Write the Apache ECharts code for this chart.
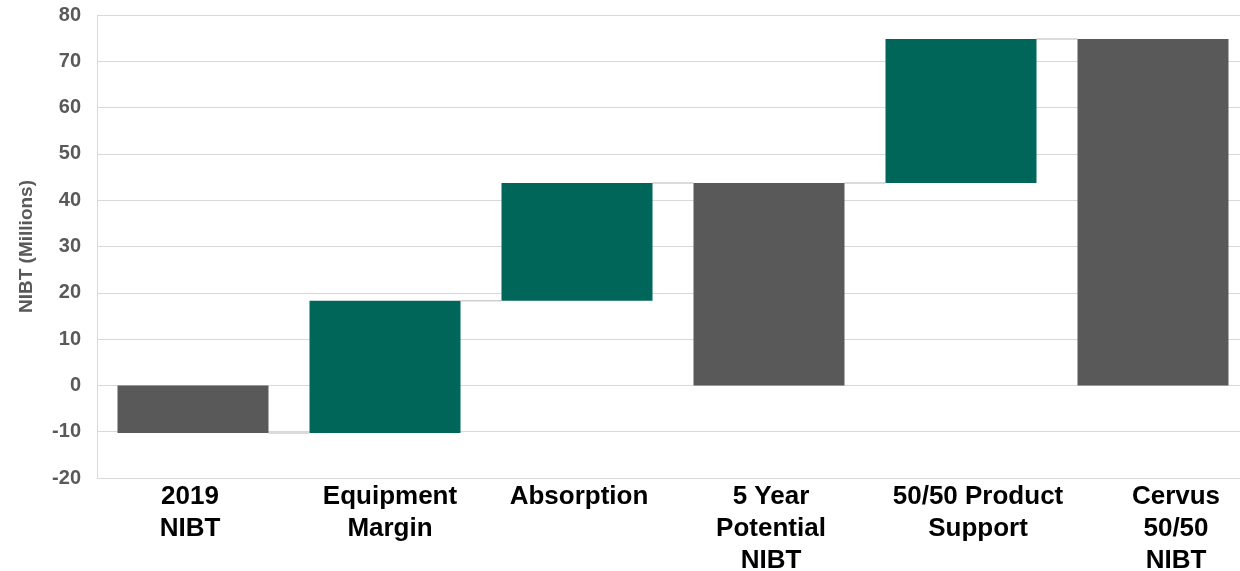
<!DOCTYPE html>
<html>
<head>
<meta charset="utf-8">
<title>NIBT Bridge</title>
<script src="https://cdn.jsdelivr.net/npm/echarts@6/dist/echarts.min.js"></script>
<style>
  html, body { margin: 0; padding: 0; background: #ffffff; }
  #chart { width: 1240px; height: 571px; }
</style>
</head>
<body>
<div id="chart"></div>
<script>
// Bridge categories (x axis labels)
const categories = [
  '2019\nNIBT',
  'Equipment\nMargin',
  'Absorption',
  '5 Year\nPotential\nNIBT',
  '50/50 Product\nSupport',
  'Cervus\n50/50\nNIBT'
];

// 'total' bars start at zero; 'delta' bars float from the running total
const kinds = ['total', 'delta', 'delta', 'total', 'delta', 'total'];

// Values in millions: totals are the level reached, deltas are the change
const values = [-10.3, 28.6, 25.4, 43.7, 31.1, 74.8];

// Y axis ticks
const yTicks = [-20, -10, 0, 10, 20, 30, 40, 50, 60, 70, 80];

// Layout: horizontal nudge (px) of each category label from its band centre
const labelShift = [-3, 5, 2, 2, 17, 23];

const colors = { total: '#595959', delta: '#00665a' };
const BAR_RATIO = 151 / 192;

// Build floating segments [index, low, high, kind] and connector levels
let running = 0;
const segments = [];
const connectors = [];
values.forEach((v, i) => {
  let low, high;
  if (kinds[i] === 'total') {
    low = 0; high = v; running = v;
  } else {
    low = running; high = running + v; running = high;
  }
  segments.push([i, Math.min(low, high), Math.max(low, high), kinds[i]]);
  if (i < values.length - 1) connectors.push([i, running]);
});

const axisData = categories.map((c, i) => {
  const s = labelShift[i];
  const pad = s >= 0 ? [0, 0, 0, 2 * s] : [0, -2 * s, 0, 0];
  return { value: c, textStyle: { padding: pad } };
});

const chart = echarts.init(document.getElementById('chart'), null, { renderer: 'canvas' });

const font = '"Liberation Sans", Arial, Helvetica, sans-serif';

chart.setOption({
  animation: false,
  backgroundColor: '#ffffff',
  grid: {
    left: 97, right: -9, top: 15, bottom: 93,
    containLabel: false,
    outerBoundsMode: 'none'
  },
  xAxis: {
    type: 'category',
    data: axisData,
    boundaryGap: true,
    axisLine: { show: true, onZero: false, lineStyle: { color: '#d9d9d9', width: 1 } },
    axisTick: { show: false },
    axisLabel: {
      interval: 0,
      margin: 3,
      color: '#000000',
      fontFamily: font,
      fontWeight: 'bold',
      fontSize: 26,
      lineHeight: 32
    },
    splitLine: { show: false }
  },
  yAxis: {
    type: 'value',
    min: yTicks[0],
    max: yTicks[yTicks.length - 1],
    interval: 10,
    name: 'NIBT (Millions)',
    nameLocation: 'middle',
    nameRotate: 90,
    nameGap: 61,
    nameTextStyle: {
      color: '#595959',
      fontFamily: font,
      fontWeight: 'bold',
      fontSize: 19
    },
    axisLine: { show: true, lineStyle: { color: '#d9d9d9', width: 1 } },
    axisTick: { show: false },
    axisLabel: {
      margin: 16,
      color: '#595959',
      fontFamily: font,
      fontWeight: 'bold',
      fontSize: 20
    },
    splitLine: { show: true, lineStyle: { color: '#d9d9d9', width: 1 } }
  },
  series: [
    {
      name: 'connectors',
      type: 'custom',
      silent: true,
      z: 1,
      data: connectors,
      encode: { x: 0, y: 1 },
      renderItem: function (params, api) {
        const idx = api.value(0);
        const level = api.value(1);
        const p = api.coord([idx, level]);
        const band = api.size([1, 0])[0];
        const half = band * BAR_RATIO / 2;
        return {
          type: 'line',
          shape: { x1: p[0] + half, y1: p[1], x2: p[0] + band - half, y2: p[1] },
          style: { stroke: '#cfcfcf', lineWidth: 1.5 }
        };
      }
    },
    {
      name: 'bars',
      type: 'custom',
      z: 2,
      data: segments,
      encode: { x: 0, y: [1, 2] },
      renderItem: function (params, api) {
        const idx = api.value(0);
        const lo = api.coord([idx, api.value(1)]);
        const hi = api.coord([idx, api.value(2)]);
        const band = api.size([1, 0])[0];
        const w = band * BAR_RATIO;
        const kind = segments[params.dataIndex][3];
        return {
          type: 'rect',
          shape: { x: lo[0] - w / 2, y: hi[1], width: w, height: lo[1] - hi[1] },
          style: { fill: colors[kind] }
        };
      }
    }
  ]
});
</script>
</body>
</html>
